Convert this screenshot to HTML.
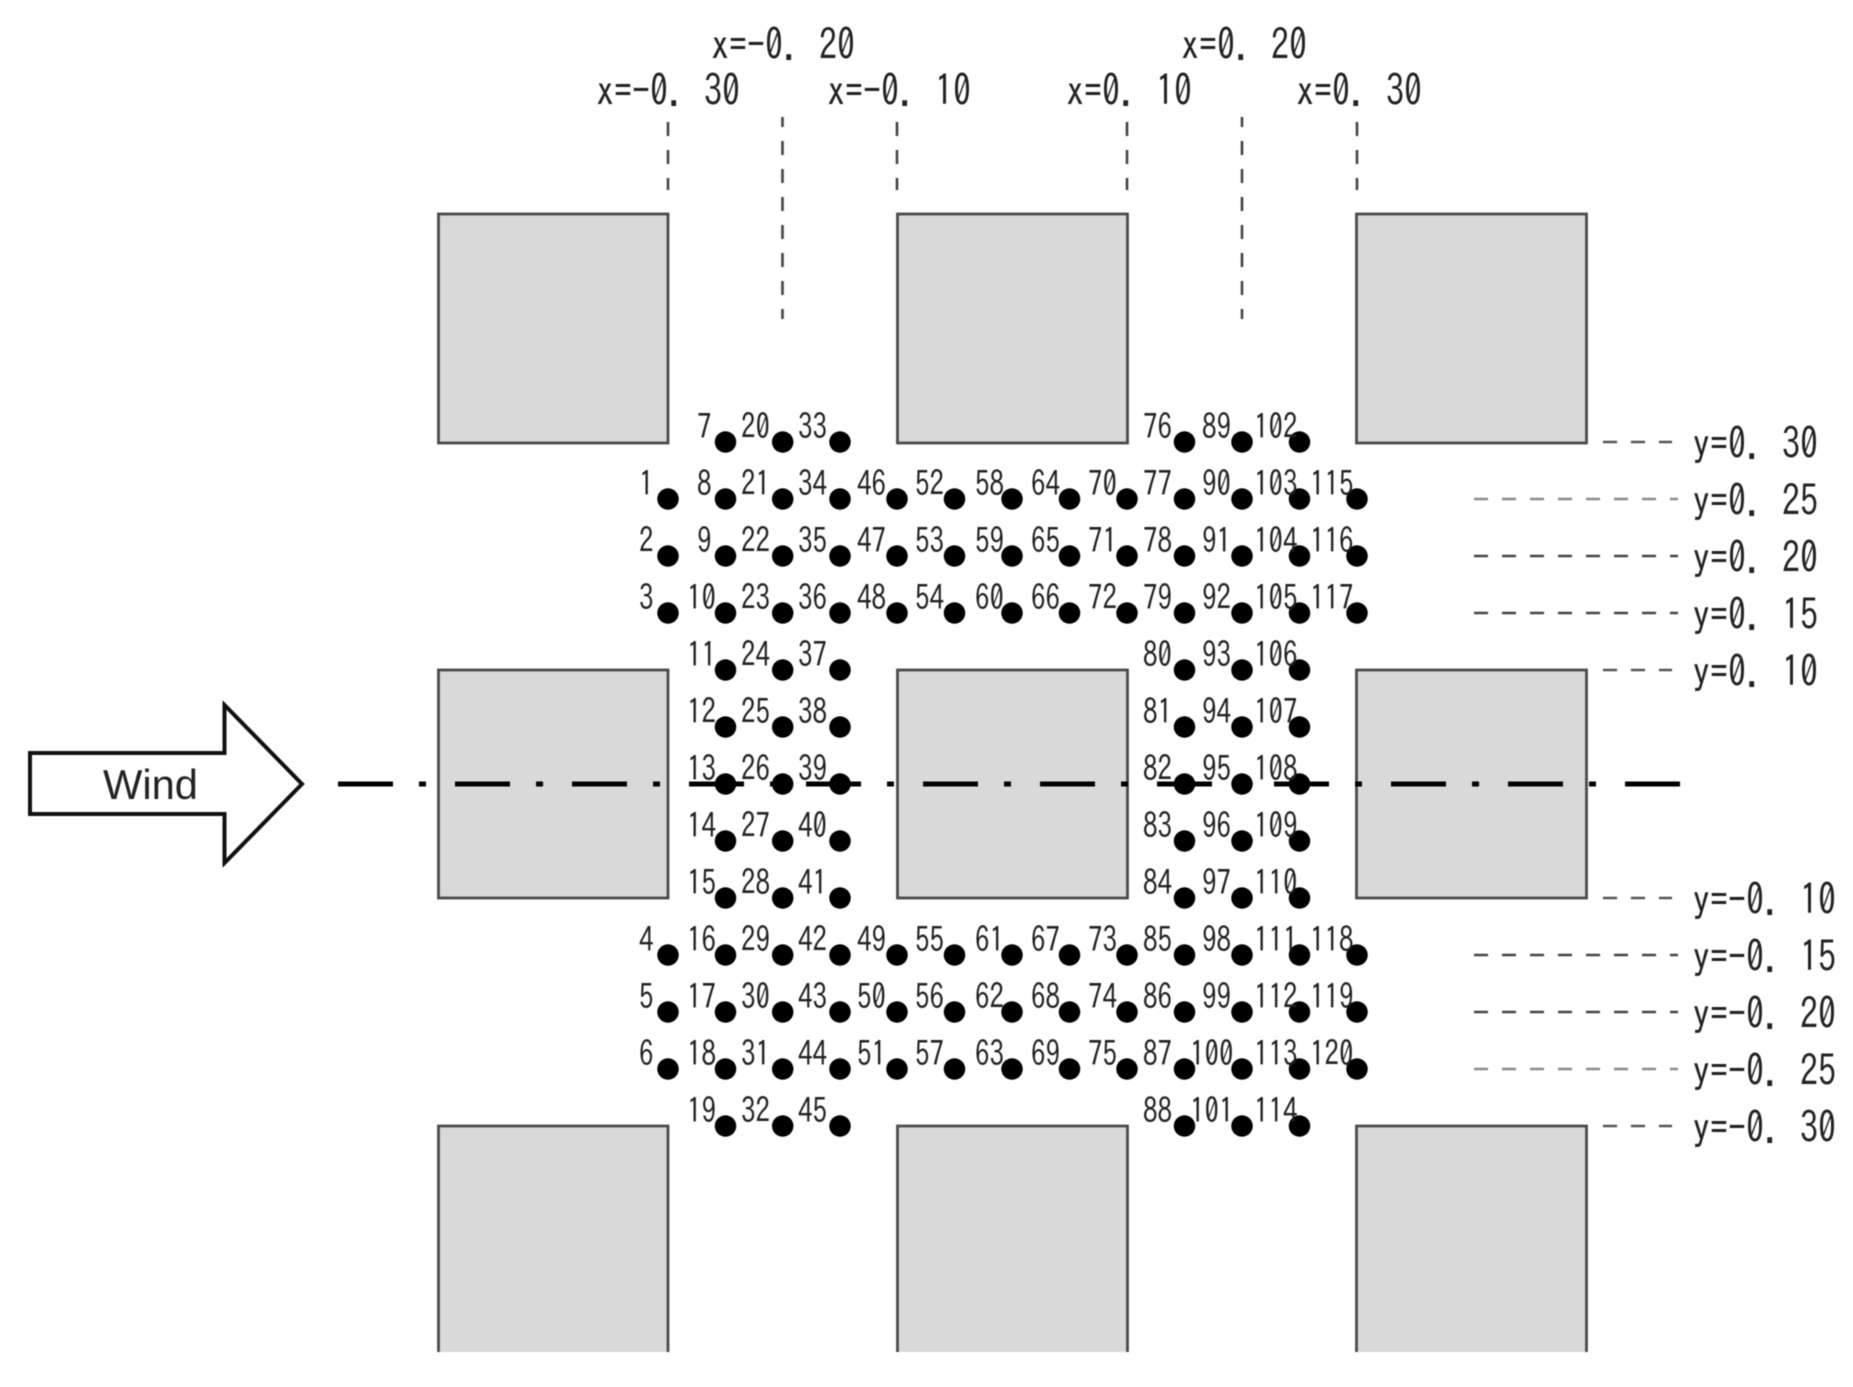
<!DOCTYPE html>
<html>
<head>
<meta charset="utf-8">
<title>Measurement points</title>
<style>
html,body{margin:0;padding:0;background:#fff;width:1853px;height:1387px;overflow:hidden}
svg{display:block;filter:blur(0.6px)}
text{font-family:"IPAGothic","Liberation Sans","Noto Sans CJK JP",sans-serif;fill:#222}
.n{font-size:29px}
.l{font-size:36px}
</style>
</head>
<body>
<svg width="1853" height="1387" viewBox="0 0 1853 1387" xmlns="http://www.w3.org/2000/svg">
<rect width="1853" height="1387" fill="#fff"/>
<g fill="#d9d9d9" stroke="#4a4a4a" stroke-width="2.800">
<rect x="438.5" y="214" width="229.5" height="229"/>
<rect x="897.5" y="214" width="230" height="229"/>
<rect x="1356.5" y="214" width="230" height="229"/>
<rect x="438.5" y="670" width="229.5" height="228"/>
<rect x="897.5" y="670" width="230" height="228"/>
<rect x="1356.5" y="670" width="230" height="228"/>
<path d="M438.5 1352V1126H668V1352"/>
<path d="M897.5 1352V1126H1127.5V1352"/>
<path d="M1356.5 1352V1126H1586.5V1352"/>
</g>
<g stroke="#444" stroke-width="2.600" fill="none" stroke-dasharray="14 14">
<path d="M668 122V190M897 122V190M1127 122V190M1357 122V190"/>
<path stroke-dashoffset="4" d="M782.5 117V319M1242 117V319"/>
<path stroke="#555" d="M1603 442H1672M1603 670H1672M1603 898H1672M1603 1126H1672"/>
<path stroke="#444" d="M1474 556H1678M1474 613H1678M1474 955H1678M1474 1012H1678"/>
<path stroke="#888" d="M1474 499H1678M1474 1069H1678"/>
</g>
<path d="M30 753H224.500V705L302 784L224.500 863V814H30Z" fill="#fff" stroke="#111" stroke-width="4"/>
<text x="103" y="799" font-size="42" textLength="95" lengthAdjust="spacingAndGlyphs" style="font-family:'Liberation Sans',sans-serif">Wind</text>
<path d="M338 784H1680" stroke="#000" stroke-width="5" stroke-dasharray="55 26 7 29" fill="none"/>
<path fill="none" stroke="#000" stroke-width="21.500" stroke-linecap="round" d="M725.500 442h0M782.700 442h0M840 442h0M1184.500 442h0M1242 442h0M1299.500 442h0
M668 499h0M725.500 499h0M782.700 499h0M840 499h0M897 499h0M954.500 499h0M1012 499h0M1069.500 499h0M1127 499h0M1184.500 499h0M1242 499h0M1299.500 499h0M1357 499h0
M668 556h0M725.500 556h0M782.700 556h0M840 556h0M897 556h0M954.500 556h0M1012 556h0M1069.500 556h0M1127 556h0M1184.500 556h0M1242 556h0M1299.500 556h0M1357 556h0
M668 613h0M725.500 613h0M782.700 613h0M840 613h0M897 613h0M954.500 613h0M1012 613h0M1069.500 613h0M1127 613h0M1184.500 613h0M1242 613h0M1299.500 613h0M1357 613h0
M725.500 670h0M782.700 670h0M840 670h0M1184.500 670h0M1242 670h0M1299.500 670h0
M725.500 727h0M782.700 727h0M840 727h0M1184.500 727h0M1242 727h0M1299.500 727h0
M725.500 784h0M782.700 784h0M840 784h0M1184.500 784h0M1242 784h0M1299.500 784h0
M725.500 841h0M782.700 841h0M840 841h0M1184.500 841h0M1242 841h0M1299.500 841h0
M725.500 898h0M782.700 898h0M840 898h0M1184.500 898h0M1242 898h0M1299.500 898h0
M668 955h0M725.500 955h0M782.700 955h0M840 955h0M897 955h0M954.500 955h0M1012 955h0M1069.500 955h0M1127 955h0M1184.500 955h0M1242 955h0M1299.500 955h0M1357 955h0
M668 1012h0M725.500 1012h0M782.700 1012h0M840 1012h0M897 1012h0M954.500 1012h0M1012 1012h0M1069.500 1012h0M1127 1012h0M1184.500 1012h0M1242 1012h0M1299.500 1012h0M1357 1012h0
M668 1069h0M725.500 1069h0M782.700 1069h0M840 1069h0M897 1069h0M954.500 1069h0M1012 1069h0M1069.500 1069h0M1127 1069h0M1184.500 1069h0M1242 1069h0M1299.500 1069h0M1357 1069h0
M725.500 1126h0M782.700 1126h0M840 1126h0M1184.500 1126h0M1242 1126h0M1299.500 1126h0"/>
<g transform="translate(0,2) scale(1,1.2)">
<text class="l" x="596" y="86.670">x=-0. 30</text>
<text class="l" x="711" y="48.330">x=-0. 20</text>
<text class="l" x="827" y="86.670">x=-0. 10</text>
<text class="l" x="1066" y="86.670">x=0. 10</text>
<text class="l" x="1181" y="48.330">x=0. 20</text>
<text class="l" x="1296" y="86.670">x=0. 30</text>
<text class="l" x="1692" y="380.830">y=0. 30</text>
<text class="l" x="1692" y="428.330">y=0. 25</text>
<text class="l" x="1692" y="475.830">y=0. 20</text>
<text class="l" x="1692" y="523.330">y=0. 15</text>
<text class="l" x="1692" y="570.830">y=0. 10</text>
<text class="l" x="1692" y="760.830">y=-0. 10</text>
<text class="l" x="1692" y="808.330">y=-0. 15</text>
<text class="l" x="1692" y="855.830">y=-0. 20</text>
<text class="l" x="1692" y="903.330">y=-0. 25</text>
<text class="l" x="1692" y="950.830">y=-0. 30</text>
</g>
<g transform="translate(0,1) scale(1,1.2)">
<text class="n" y="365"><tspan x="697">7</tspan><tspan x="741">20</tspan><tspan x="798">33</tspan><tspan x="1143">76</tspan><tspan x="1202">89</tspan><tspan x="1254">102</tspan></text>
<text class="n" y="412.500"><tspan x="639">1</tspan><tspan x="697">8</tspan><tspan x="741">21</tspan><tspan x="798">34</tspan><tspan x="857">46</tspan><tspan x="915">52</tspan><tspan x="975">58</tspan><tspan x="1031">64</tspan><tspan x="1088">70</tspan><tspan x="1143">77</tspan><tspan x="1202">90</tspan><tspan x="1254">103</tspan><tspan x="1310">115</tspan></text>
<text class="n" y="460"><tspan x="639">2</tspan><tspan x="697">9</tspan><tspan x="741">22</tspan><tspan x="798">35</tspan><tspan x="857">47</tspan><tspan x="915">53</tspan><tspan x="975">59</tspan><tspan x="1031">65</tspan><tspan x="1088">71</tspan><tspan x="1143">78</tspan><tspan x="1202">91</tspan><tspan x="1254">104</tspan><tspan x="1310">116</tspan></text>
<text class="n" y="507.500"><tspan x="639">3</tspan><tspan x="687">10</tspan><tspan x="741">23</tspan><tspan x="798">36</tspan><tspan x="857">48</tspan><tspan x="915">54</tspan><tspan x="975">60</tspan><tspan x="1031">66</tspan><tspan x="1088">72</tspan><tspan x="1143">79</tspan><tspan x="1202">92</tspan><tspan x="1254">105</tspan><tspan x="1310">117</tspan></text>
<text class="n" y="555"><tspan x="687">11</tspan><tspan x="741">24</tspan><tspan x="798">37</tspan><tspan x="1143">80</tspan><tspan x="1202">93</tspan><tspan x="1254">106</tspan></text>
<text class="n" y="602.500"><tspan x="687">12</tspan><tspan x="741">25</tspan><tspan x="798">38</tspan><tspan x="1143">81</tspan><tspan x="1202">94</tspan><tspan x="1254">107</tspan></text>
<text class="n" y="650"><tspan x="687">13</tspan><tspan x="741">26</tspan><tspan x="798">39</tspan><tspan x="1143">82</tspan><tspan x="1202">95</tspan><tspan x="1254">108</tspan></text>
<text class="n" y="697.500"><tspan x="687">14</tspan><tspan x="741">27</tspan><tspan x="798">40</tspan><tspan x="1143">83</tspan><tspan x="1202">96</tspan><tspan x="1254">109</tspan></text>
<text class="n" y="745"><tspan x="687">15</tspan><tspan x="741">28</tspan><tspan x="798">41</tspan><tspan x="1143">84</tspan><tspan x="1202">97</tspan><tspan x="1254">110</tspan></text>
<text class="n" y="792.500"><tspan x="639">4</tspan><tspan x="687">16</tspan><tspan x="741">29</tspan><tspan x="798">42</tspan><tspan x="857">49</tspan><tspan x="915">55</tspan><tspan x="975">61</tspan><tspan x="1031">67</tspan><tspan x="1088">73</tspan><tspan x="1143">85</tspan><tspan x="1202">98</tspan><tspan x="1254">111</tspan><tspan x="1310">118</tspan></text>
<text class="n" y="840"><tspan x="639">5</tspan><tspan x="687">17</tspan><tspan x="741">30</tspan><tspan x="798">43</tspan><tspan x="857">50</tspan><tspan x="915">56</tspan><tspan x="975">62</tspan><tspan x="1031">68</tspan><tspan x="1088">74</tspan><tspan x="1143">86</tspan><tspan x="1202">99</tspan><tspan x="1254">112</tspan><tspan x="1310">119</tspan></text>
<text class="n" y="887.500"><tspan x="639">6</tspan><tspan x="687">18</tspan><tspan x="741">31</tspan><tspan x="798">44</tspan><tspan x="857">51</tspan><tspan x="915">57</tspan><tspan x="975">63</tspan><tspan x="1031">69</tspan><tspan x="1088">75</tspan><tspan x="1143">87</tspan><tspan x="1190">100</tspan><tspan x="1254">113</tspan><tspan x="1310">120</tspan></text>
<text class="n" y="935"><tspan x="687">19</tspan><tspan x="741">32</tspan><tspan x="798">45</tspan><tspan x="1143">88</tspan><tspan x="1190">101</tspan><tspan x="1254">114</tspan></text>
</g>
</svg>
</body>
</html>
